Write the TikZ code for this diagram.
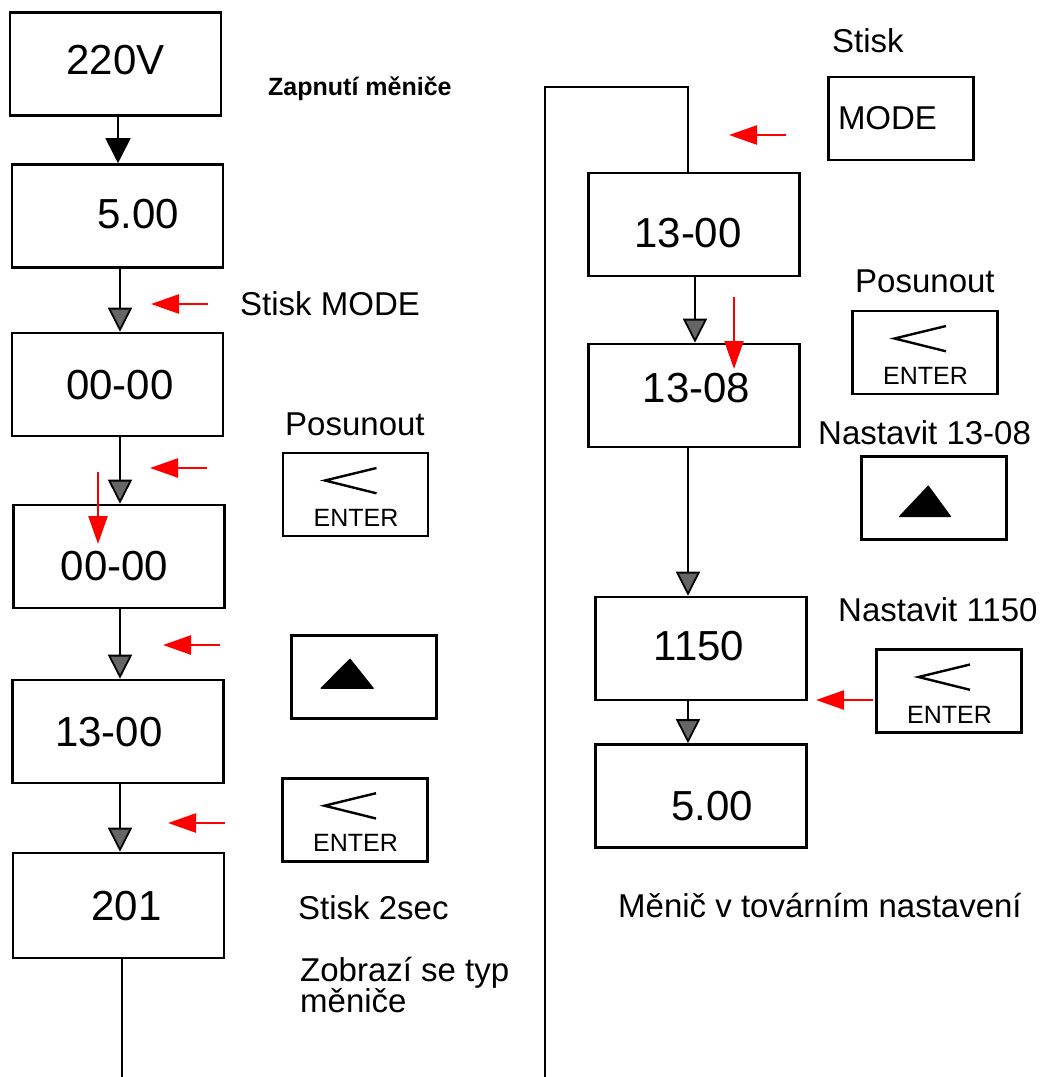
\documentclass[tikz,border=0pt]{standalone}
\usepackage{fontspec}
\setmainfont{Liberation Sans}
\usetikzlibrary{calc, arrows.meta}

\begin{document}
\begin{tikzpicture}[x=1pt, y=-1pt,
  disp/.style={draw, line width=2.6pt, minimum width=211pt, minimum height=103pt, inner sep=0pt,
    text height=30pt, text depth=0pt, font=\fontsize{42}{42}\selectfont},
  key/.style={draw, line width=2.6pt, minimum width=145pt, minimum height=83pt, inner sep=0pt},
  lbl/.style={anchor=base west, inner sep=0pt, font=\fontsize{33}{36}\selectfont},
  keytxt/.style={anchor=base, inner sep=0pt, font=\fontsize{25}{25}\selectfont},
  wire/.style={line width=1.8pt},
  flow/.style={wire, -{Triangle[length=24pt,width=24pt,fill=black!60]}},
  press/.style={red, line width=2.5pt, -{Triangle[length=28pt,width=19pt]}}]
  \useasboundingbox (0,0) rectangle (1048,1077);

  % left column
  \node[disp] (b220) at (115.5,64) {\raisebox{5pt}{220V}};
  \node[disp] (b500) at (117.5,216) {\raisebox{3pt}{\hspace*{41pt}5.00}};
  \node[disp] (b00a) at (117.5,384.5) {\hspace*{5pt}00-00};
  \node[disp] (b00b) at (119,556.5) {\raisebox{-8.5pt}{\hspace*{-9pt}00-00}};
  \node[disp] (b13a) at (118,731.5) {\hspace*{-18pt}13-00};
  \node[disp, minimum height=105pt] (b201) at (118.5,905.5) {\hspace*{16pt}201};
  \coordinate (cutL) at (122,1077);

  \draw[wire, -{Triangle[length=25pt,width=25pt]}] ([xshift=2.5pt]b220.south) -- ([xshift=2.5pt]b220.south |- b500.north);
  \draw[flow] ([xshift=2.5pt]b500.south) -- ([xshift=2.5pt]b500.south |- b00a.north);
  \draw[flow] ([xshift=2.5pt]b00a.south) -- ([xshift=2.5pt]b00a.south |- b00b.north);
  \draw[flow] ([xshift=1pt]b00b.south) -- ([xshift=1pt]b00b.south |- b13a.north);
  \draw[flow] ([xshift=2pt]b13a.south) -- ([xshift=2pt]b13a.south |- b201.north);
  \draw[wire] ([xshift=3.5pt]b201.south) -- (cutL);

  % right column
  \node[disp] (r1300) at (694,224.5) {\raisebox{-7.5pt}{\hspace*{-12pt}13-00}};
  \node[disp] (r1308) at (694,395.5) {\raisebox{8.5pt}{\hspace*{5pt}13-08}};
  \node[disp] (r1150) at (701,648.5) {\raisebox{3.5pt}{\hspace*{-4pt}1150}};
  \node[disp] (r500) at (701,796) {\raisebox{-9pt}{\hspace*{22pt}5.00}};
  \coordinate (cutR) at (545,1077);

  \draw[flow] ([xshift=1pt]r1300.south) -- ([xshift=1pt]r1300.south |- r1308.north);
  \draw[flow] ([xshift=-6pt]r1308.south) -- ([xshift=-6pt]r1308.south |- r1150.north);
  \draw[flow] ([xshift=-13pt]r1150.south) -- ([xshift=-13pt]r1150.south |- r500.north);
  \draw[wire] (cutR) |- ($(r1300.north)+(-6,-85)$) -- ([xshift=-6pt]r1300.north);

  % keys
  \node[key] (ent1) at (355.5,494.5) {};
  \node[key] (ent2) at (355,819.7) {};
  \node[key] (ent3) at (925,352.5) {};
  \node[key] (ent4) at (949,691) {};
  \node[key] (up1) at (364,677) {};
  \node[key] (up2) at (933.7,497.7) {};
  \node[key, text width=126pt, align=left, inner xsep=9pt, font=\fontsize{33}{36}\selectfont] (mode) at (901,118.5) {MODE};

  \foreach \k in {ent1,ent2,ent3,ent4} {
    \draw[line width=2.4pt] ($(\k.center)+(21,-26.5)$) -- ($(\k.center)+(-30.5,-14)$) -- ($(\k.center)+(21,-1.2)$);
    \node[keytxt] (\k-txt) at ($(\k.center)+(0.5,32)$) {ENTER};
  }
  \filldraw[line width=1pt, line join=round] ($(up1.center)+(-14,-18)$) -- ($(up1.center)+(-43,11.3)$) -- ($(up1.center)+(9.3,11.3)$) -- cycle;
  \filldraw[line width=1pt, line join=round] ($(up2.center)+(-5.4,-11.7)$) -- ($(up2.center)+(-34.4,19)$) -- ($(up2.center)+(17,19)$) -- cycle;

  % texts
  \node[lbl, font=\bfseries\fontsize{25}{30}\selectfont] (title) at (268,95) {Zapnutí měniče};
  \node[lbl] (stisk1) at (240,315) {Stisk MODE};
  \node[lbl] (posun1) at (285,435) {Posunout};
  \node[lbl] (hold) at (298,919) {Stisk 2sec};
  \node[lbl] (type1) at (300,981) {Zobrazí se typ};
  \node[lbl] (type2) at (300,1012) {měniče};
  \node[lbl] (stisk2) at (832,52) {Stisk};
  \node[lbl] (posun2) at (855,292) {Posunout};
  \node[lbl] (set1) at (818,444) {Nastavit 13-08};
  \node[lbl] (set2) at (838,621) {Nastavit 1150};
  \node[lbl] (done) at (618,917) {Měnič v továrním nastavení};

  % red pointers
  \foreach \x/\y in {208/304, 207/468, 220/645, 225/823, 786/135, 873/700}
    \draw[press] (\x,\y) -- ++(-57,0);
  \foreach \x/\y in {98/472, 734/297}
    \draw[press] (\x,\y) -- ++(0,72);
\end{tikzpicture}
\end{document}
